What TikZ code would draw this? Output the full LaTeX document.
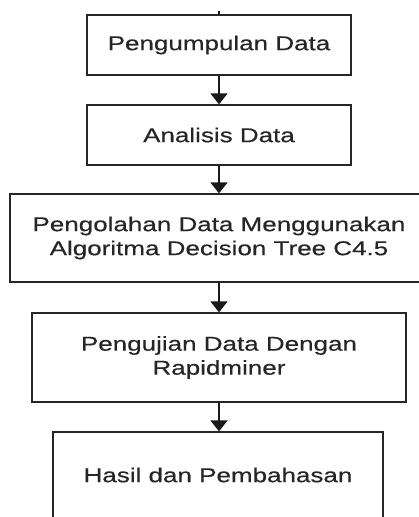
\documentclass[tikz,border=0pt]{standalone}
\usepackage{fontspec}
\setmainfont{Liberation Sans}[FakeStretch=1.3,FakeBold=0.4]
\usetikzlibrary{arrows.meta}
\begin{document}
\begin{tikzpicture}[x=1pt,y=-1pt,
  flowbox/.style={draw=black!85,line width=1.3pt,rectangle,align=center,
    inner sep=0pt,font=\fontsize{20}{24}\selectfont,text=black!85},
  flowarrow/.style={draw=black!90,line width=1.6pt,-{Triangle[width=17pt,length=11pt]}}]
\useasboundingbox (0,0) rectangle (419,517);
\clip (0,0) rectangle (419,517);
\node[flowbox,minimum width=264pt,minimum height=60pt] (b1) at (219,45) {Pengumpulan Data};
\node[flowbox,minimum width=264pt,minimum height=60pt] (b2) at (219,135) {Analisis Data};
\node[flowbox,minimum width=418pt,minimum height=88pt] (b3) at (219,238) {Pengolahan Data Menggunakan\\Algoritma Decision Tree C4.5};
\node[flowbox,minimum width=374pt,minimum height=89pt] (b4) at (219,357.5) {Pengujian Data Dengan\\Rapidminer};
\node[flowbox,minimum width=330pt,minimum height=86pt] (b5) at (218,475) {Hasil dan Pembahasan};
\coordinate (top) at (219,11);
\draw[draw=black!90,line width=1.6pt] (top) -- (b1.north);
\draw[flowarrow] (b1) -- (b2);
\draw[flowarrow] (b2) -- (b3);
\draw[flowarrow] (b3) -- (b4);
\draw[flowarrow] (b4.south) -- (b5.north -| b4.south);
\end{tikzpicture}
\end{document}
